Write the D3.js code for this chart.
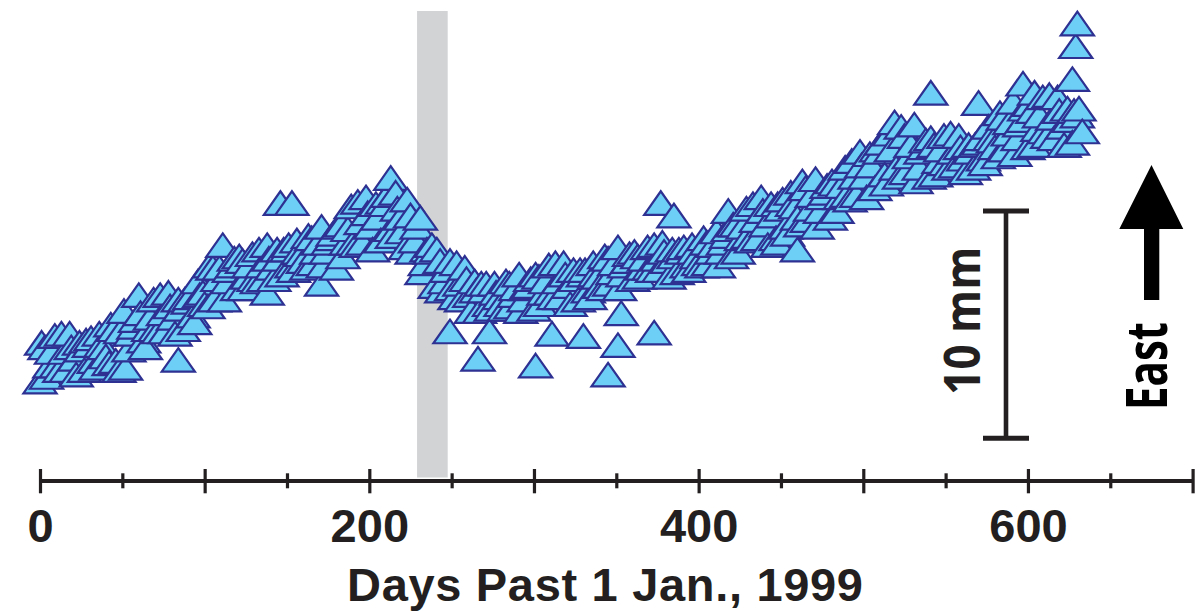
<!DOCTYPE html>
<html>
<head>
<meta charset="utf-8">
<script src="https://cdn.jsdelivr.net/npm/d3@7"></script>
<style>
  html, body { margin: 0; padding: 0; background: #ffffff; }
  svg { display: block; }
</style>
</head>
<body>
<script>
// ---------------- DATA ----------------
// Days past 1 Jan 1999 and east displacement (mm, relative) — first sample set
const daysA = [0,3,6,9,12,15,18,21,24,27,30,33,36,39,42,45,48,51,54,57,60,63,66,69,72,75,78,81,84,87,90,93,96,99,102,105,108,111,114,117,120,123,126,129,132,135,138,141,144,147,150,153,156,159,162,165,168,171,174,177,180,183,186,189,192,195,198,201,204,207,210,213,216,219,222,225,228,231,234,237,240,243,246,249,252,255,258,261,264,267,270,273,276,279,282,285,288,291,294,297,300,303,306,309,312,315,318,321,324,327,330,333,336,339,342,345,348,351,354,357,360,363,366,369,372,375,378,381,384,387,390,393,396,399,402,405,408,411,414,417,420,423,426,429,432,435,438,441,444,447,450,453,456,459,462,465,468,471,474,477,480,483,486,489,492,495,498,501,504,507,510,513,516,519,522,525,528,531,534,537,540,543,546,549,552,555,558,561,564,567,570,573,576,579,582,585,588,591,594,597,600,603,606,609,612,615,618,621,624,627,630,633];
const eastA = [
  2.5, 4.0, 3.2, 4.5, 3.0, 3.8, 4.6, 3.5, 4.2, 3.0,
  4.1, 3.4, 4.6, 4.0, 3.3, 4.8, 3.0, 5.6, 3.9, 4.9,
  6.3, 4.3, 4.8, 6.1, 4.7, 5.5, 6.4, 5.3, 6.1, 4.8,
  6.0, 5.4, 6.9, 6.4, 5.8, 7.5, 7.0, 8.5, 6.9, 7.6,
  6.6, 7.8, 7.1, 8.1, 6.9, 7.6, 8.5, 7.5, 8.3, 7.2,
  8.3, 7.6, 8.7, 8.1, 7.5, 8.8, 8.2, 9.3, 8.2, 8.8,
  7.5, 9.4, 8.6, 10.2, 8.5, 9.5, 10.6, 9.3, 10.3, 8.7,
  10.3, 9.2, 10.8, 9.7, 8.4, 9.8, 8.7, 9.7, 7.7, 8.2,
  6.7, 7.8, 6.9, 7.8, 6.2, 6.8, 7.5, 6.3, 6.9, 5.6,
  6.5, 5.9, 6.8, 6.2, 5.7, 6.8, 6.3, 7.2, 6.1, 6.7,
  5.7, 7.1, 6.4, 7.6, 6.2, 6.9, 7.7, 6.7, 7.4, 6.1,
  7.2, 6.5, 7.7, 7.1, 6.6, 7.9, 7.3, 8.4, 7.2, 7.8,
  7.0, 8.0, 7.5, 8.4, 7.4, 7.9, 8.6, 7.8, 8.3, 7.3,
  8.2, 7.6, 8.5, 8.0, 7.6, 8.6, 8.2, 9.1, 8.2, 8.9,
  8.0, 9.4, 8.8, 10.1, 8.7, 9.6, 10.6, 9.4, 10.3, 8.8,
  10.1, 9.3, 10.8, 10.2, 9.4, 11.0, 10.1, 11.4, 10.0, 10.8,
  9.7, 11.2, 10.6, 11.9, 10.5, 11.5, 12.6, 11.5, 12.5, 11.0,
  12.6, 11.6, 13.4, 13.9, 11.5, 13.3, 12.4, 13.8, 11.9, 12.8,
  11.5, 12.9, 12.2, 13.3, 11.9, 12.6, 13.3, 12.3, 12.9, 11.9,
  13.0, 12.3, 13.7, 13.1, 12.4, 14.1, 13.4, 14.8, 13.2, 14.0,
  12.8, 14.4, 13.6, 15.0, 13.3, 14.1, 15.0, 13.7, 14.5, 13.0,
  14.2, 13.5
];
// Second sample set (days in between)
const daysB = [1,4,7,10,13,16,19,22,25,28,31,34,37,40,43,46,49,52,55,58,61,64,67,70,73,76,79,82,85,88,91,94,97,100,103,106,109,112,115,118,121,124,127,130,133,136,139,142,145,148,151,154,157,160,163,166,169,172,175,178,181,184,187,190,193,196,199,202,205,208,211,214,217,220,223,226,229,232,235,238,241,244,247,250,253,256,259,262,265,268,271,274,277,280,283,286,289,292,295,298,301,304,307,310,313,316,319,322,325,328,331,334,337,340,343,346,349,352,355,358,361,364,367,370,373,376,379,382,385,388,391,394,397,400,403,406,409,412,415,418,421,424,427,430,433,436,439,442,445,448,451,454,457,460,463,466,469,472,475,478,481,484,487,490,493,496,499,502,505,508,511,514,517,520,523,526,529,532,535,538,541,544,547,550,553,556,559,562,565,568,571,574,577,580,583,586,589,592,595,598,601,604,607,610,613,616,619,622,625,628,631];
const eastB = [
  4.2, 2.7, 3.8, 3.2, 4.6, 3.0, 4.0, 2.8, 3.9, 4.3,
  4.4, 3.1, 4.1, 3.6, 5.0, 3.4, 4.7, 3.1, 4.6, 5.2,
  5.5, 4.0, 5.3, 4.8, 6.3, 4.7, 5.8, 4.6, 5.7, 6.1,
  6.2, 5.1, 6.3, 5.9, 7.6, 6.1, 7.5, 6.1, 7.4, 7.9,
  8.0, 6.6, 7.6, 7.0, 8.3, 7.0, 7.9, 7.0, 7.9, 8.3,
  8.5, 7.4, 8.2, 7.8, 8.9, 7.7, 8.6, 7.6, 8.6, 9.0,
  9.3, 8.0, 9.2, 8.6, 10.4, 8.6, 9.9, 8.3, 9.7, 10.4,
  10.7, 8.9, 10.1, 9.1, 10.5, 8.2, 9.3, 7.3, 8.3, 8.5,
  8.3, 6.5, 7.4, 6.6, 7.7, 6.1, 7.0, 5.6, 6.5, 6.8,
  6.8, 5.7, 6.4, 5.9, 6.9, 5.8, 6.6, 5.6, 6.6, 7.0,
  7.2, 5.9, 6.9, 6.4, 7.7, 6.2, 7.2, 5.9, 7.0, 7.4,
  7.4, 6.2, 7.2, 6.7, 8.0, 6.8, 7.7, 6.6, 7.6, 8.1,
  8.2, 7.1, 7.9, 7.5, 8.5, 7.4, 8.2, 7.1, 8.0, 8.3,
  8.4, 7.4, 8.2, 7.7, 8.8, 7.7, 8.5, 7.6, 8.6, 9.2,
  9.4, 8.2, 9.3, 8.9, 10.3, 8.8, 10.0, 8.5, 9.8, 10.3,
  10.5, 9.0, 10.3, 9.7, 11.3, 9.6, 10.7, 9.3, 10.6, 11.1,
  11.3, 10.0, 11.1, 10.7, 12.2, 10.7, 12.0, 10.6, 12.0, 12.7,
  13.0, 11.2, 12.7, 11.9, 13.7, 11.7, 12.9, 11.3, 12.6, 13.1,
  13.2, 11.6, 12.7, 12.1, 13.4, 12.0, 12.8, 11.7, 12.6, 12.9,
  13.2, 12.1, 13.2, 12.8, 14.3, 12.7, 13.9, 12.5, 13.8, 14.5,
  14.7, 12.9, 14.2, 13.5, 15.1, 13.2, 14.4, 12.9, 14.0, 14.4,
  14.5
];
// Isolated points that stand out from the band
const outlierDays = [84, 138, 146, 153, 171, 213, 249, 266, 273, 301, 311, 330, 345, 351, 353, 373, 377, 385, 418, 448, 460, 541, 570, 597, 604, 627, 629, 630];
const outlierMM   = [3.45, 6.4, 10.35, 10.35, 6.8, 11.45, 4.7, 3.5, 4.7, 3.2, 4.6, 4.5, 2.8, 4.1, 5.5, 4.65, 10.35, 9.8, 10.0, 8.6, 8.3, 15.2, 14.75, 15.6, 15.2, 15.8, 17.25, 18.25];

// Axis ticks
const majorTicks = [0, 100, 200, 300, 400, 500, 600, 700];
const minorTicks = [50, 150, 250, 350, 450, 550, 650];
const tickLabels = [0, 200, 400, 600];
const xTitle = "Days Past 1 Jan., 1999";
// Shaded interval (days)
const gapStart = 229, gapEnd = 247.6;
// Scale bar (mm)
const scaleBarMM = [0, 10];
const scaleLabel = "10 mm";
const dirLabel = "East";

// ---------------- DRAW ----------------
const W = 1201, H = 611;
const svg = d3.select("body").append("svg").attr("width", W).attr("height", H);
svg.append("rect").attr("width", W).attr("height", H).attr("fill", "#ffffff");

const x = d3.scaleLinear().domain([0, 700]).range([40, 1192.6]);
const y = d3.scaleLinear().domain([0, 10]).range([438.3, 211]);
const axisY = 481;
const ink = "#231f20";

// gray band
svg.append("rect")
  .attr("x", x(gapStart)).attr("width", x(gapEnd) - x(gapStart))
  .attr("y", 11).attr("height", 477.5 - 11)
  .attr("fill", "#d1d3d4");

// points, drawn in time order
const pts = daysA.map((d, i) => ({ d, v: eastA[i] }))
  .concat(daysB.map((d, i) => ({ d, v: eastB[i] })))
  .concat(outlierDays.map((d, i) => ({ d, v: outlierMM[i] })))
  .sort((a, b) => a.d - b.d);

const tri = "M0,-11.8 L16.6,11.8 L-16.6,11.8 Z";
svg.append("g").selectAll("path").data(pts).join("path")
  .attr("d", tri)
  .attr("transform", p => `translate(${x(p.d)},${y(p.v)})`)
  .attr("fill", "#6dcff6")
  .attr("stroke", "#2e3192")
  .attr("stroke-width", 2.2)
  .attr("stroke-linejoin", "miter");

// x axis
const fontX = "'Liberation Sans', Arial, Helvetica, sans-serif";
const gx = svg.append("g").attr("transform", `translate(0,${axisY})`);
gx.call(d3.axisBottom(x).tickValues(majorTicks).tickSizeOuter(0)
  .tickFormat(d => tickLabels.includes(d) ? d : ""));
gx.select(".domain").attr("stroke", ink).attr("stroke-width", 4)
  .attr("d", `M${x(0)},0H${x(700)}`);
gx.selectAll(".tick line").attr("stroke", ink).attr("stroke-width", 3.2)
  .attr("y1", -12).attr("y2", 12.3);
gx.selectAll(".tick text")
  .attr("fill", ink)
  .attr("y", 60.5).attr("dy", null)
  .style("font-family", fontX)
  .style("font-weight", "bold")
  .style("font-size", "47px");

const gm = svg.append("g").attr("transform", `translate(0,${axisY})`);
gm.call(d3.axisBottom(x).tickValues(minorTicks).tickSizeOuter(0).tickFormat(""));
gm.select(".domain").remove();
gm.selectAll(".tick line").attr("stroke", ink).attr("stroke-width", 3.2)
  .attr("y1", -7.7).attr("y2", 7.3);

svg.append("text")
  .attr("x", 605).attr("y", 600.5)
  .attr("text-anchor", "middle")
  .attr("textLength", 516).attr("lengthAdjust", "spacing")
  .attr("fill", ink)
  .style("font-family", fontX)
  .style("font-weight", "bold")
  .style("font-size", "47px")
  .text(xTitle);

// scale bar
const sbX = 1006;
const sb = svg.append("g").attr("stroke", ink);
sb.append("line").attr("x1", sbX).attr("x2", sbX)
  .attr("y1", y(scaleBarMM[1])).attr("y2", y(scaleBarMM[0])).attr("stroke-width", 4.6);
scaleBarMM.forEach(v => {
  sb.append("line").attr("x1", sbX - 23).attr("x2", sbX + 23)
    .attr("y1", y(v)).attr("y2", y(v)).attr("stroke-width", 5);
});
svg.append("text")
  .attr("transform", `translate(980,${(y(0) + y(10)) / 2 - 4}) rotate(-90)`)
  .attr("text-anchor", "middle")
  .attr("textLength", 148).attr("lengthAdjust", "spacingAndGlyphs")
  .attr("fill", ink)
  .style("font-family", "'Open Sans', 'Noto Sans', sans-serif")
  .style("font-weight", "bold")
  .style("font-size", "51px")
  .text(scaleLabel);

// direction arrow
svg.append("path")
  .attr("d", "M1151.5,165 L1183.3,229 L1159.3,229 L1159.3,300 L1144,300 L1144,229 L1119.3,229 Z")
  .attr("fill", "#000000");
svg.append("text")
  .attr("transform", `translate(1167,366) rotate(-90)`)
  .attr("text-anchor", "middle")
  .attr("textLength", 88).attr("lengthAdjust", "spacingAndGlyphs")
  .attr("fill", "#000000")
  .style("font-family", "'Open Sans', 'Noto Sans', sans-serif")
  .style("font-weight", "bold")
  .style("font-size", "58px")
  .text(dirLabel);
</script>
</body>
</html>
